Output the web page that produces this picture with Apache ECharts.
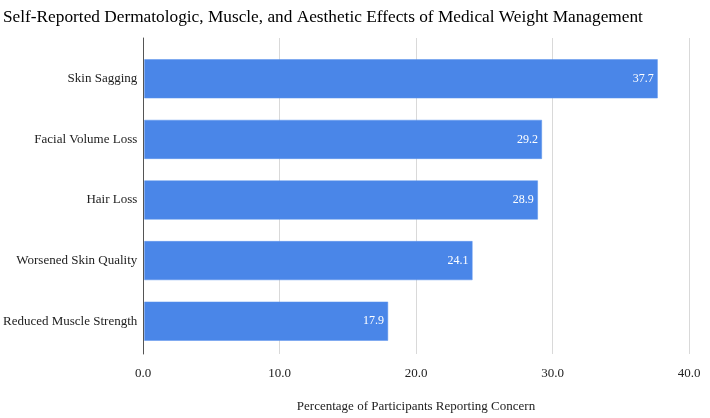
<!DOCTYPE html>
<html><head><meta charset="utf-8">
<script src="https://cdn.jsdelivr.net/npm/echarts@6/dist/echarts.min.js"></script>
<style>html,body{margin:0;padding:0;background:#fff}#c{width:710px;height:418px}</style>
</head><body><div id="c"></div>
<script>
const titleText = "Self-Reported Dermatologic, Muscle, and Aesthetic Effects of Medical Weight Management";
const categories = ["Skin Sagging", "Facial Volume Loss", "Hair Loss", "Worsened Skin Quality", "Reduced Muscle Strength"];
const values = [37.7, 29.2, 28.9, 24.1, 17.9];
const xTicks = [0, 10, 20, 30, 40];
const xAxisTitle = "Percentage of Participants Reporting Concern";

const serif = "'Liberation Serif', 'Times New Roman', serif";
const chart = echarts.init(document.getElementById('c'), null, {renderer: 'canvas'});
chart.setOption({
  backgroundColor: '#fff',
  animation: false,
  title: {text: titleText, left: 3, top: 9, padding: 0, textStyle: {fontFamily: serif, fontSize: 17.3, fontWeight: 'normal', color: '#000'}},
  grid: [
    {left: 143, right: 21, top: 48.5, height: 303},
    {left: 143, right: 21, top: 38, height: 322}
  ],
  xAxis: [
    {gridIndex: 0, type: 'value', min: xTicks[0], max: xTicks[xTicks.length-1], interval: 10,
     axisLabel: {show: false}, axisLine: {show: false}, axisTick: {show: false}, splitLine: {show: false}},
    {gridIndex: 1, type: 'value', min: xTicks[0], max: xTicks[xTicks.length-1], interval: 10,
     axisLine: {show: false}, axisTick: {show: false},
     splitLine: {show: true, lineStyle: {color: '#d9d9d9', width: 1}},
     axisLabel: {margin: 13, color: '#222', fontFamily: serif, fontSize: 13, formatter: v => v.toFixed(1)},
     name: xAxisTitle, nameLocation: 'middle', nameGap: 46,
     nameTextStyle: {fontFamily: serif, fontSize: 13, color: '#222'}}
  ],
  yAxis: [
    {gridIndex: 0, type: 'category', data: categories, inverse: true,
     axisLine: {show: false}, axisTick: {show: false},
     axisLabel: {margin: 7, color: '#222', fontFamily: serif, fontSize: 13}},
    {gridIndex: 1, type: 'value', min: 0, max: 1, axisLabel: {show: false}, splitLine: {show: false},
     axisTick: {show: false}, axisLine: {show: true, onZero: false, lineStyle: {color: '#555', width: 1}}}
  ],
  series: [{
    type: 'bar', xAxisIndex: 0, yAxisIndex: 0, data: values, barWidth: 39,
    itemStyle: {color: '#4a86e8', borderColor: '#5b93ec', borderWidth: 0.5},
    label: {show: true, position: 'insideRight', distance: 4, color: '#fff', fontFamily: serif, fontSize: 12,
            formatter: p => p.value.toFixed(1)}
  }]
});
</script></body></html>
